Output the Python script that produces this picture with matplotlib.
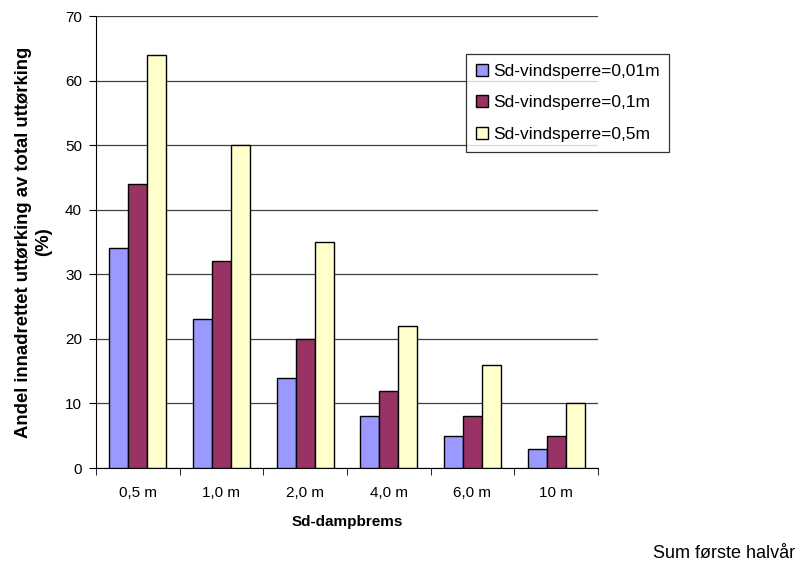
import matplotlib
matplotlib.use("Agg")
import matplotlib.pyplot as plt
import numpy as np

categories = ["0,5 m", "1,0 m", "2,0 m", "4,0 m", "6,0 m", "10 m"]
series_names = ["Sd-vindsperre=0,01m", "Sd-vindsperre=0,1m", "Sd-vindsperre=0,5m"]
vals_001 = [34, 23, 14, 8, 5, 3]
vals_01 = [44, 32, 20, 12, 8, 5]
vals_05 = [64, 50, 35, 22, 16, 10]
colors = ["#9999FF", "#993366", "#FFFFCC"]

plt.rcParams['font.family'] = ['Liberation Sans', 'DejaVu Sans']

fig = plt.figure(figsize=(8.02, 5.67), dpi=100)
ax = fig.add_axes([96/802, 1-468/567, 502/802, 452/567])

x = np.arange(len(categories))
w = 0.227
for i, (vals, c, name) in enumerate(zip([vals_001, vals_01, vals_05], colors, series_names)):
    ax.bar(x + (i-1)*w, vals, width=w, color=c, edgecolor="black", linewidth=1.0,
           label=name, zorder=3)

ax.set_xlim(-0.5, len(categories)-0.5)
ax.set_ylim(0, 70)
ax.set_yticks(range(0, 71, 10))
ax.yaxis.grid(True, color="#404040", linewidth=0.9, zorder=0)
ax.set_axisbelow(True)
for s in ["top", "right"]:
    ax.spines[s].set_visible(False)
ax.spines["left"].set_color("black")
ax.spines["bottom"].set_color("black")

ax.set_xticks(x)
ax.set_xticklabels(categories, fontsize=11)
ax.tick_params(axis="x", length=0, pad=13)
ax.set_xticks(np.arange(-0.5, len(categories), 1), minor=True)
ax.tick_params(axis="x", which="minor", length=5, direction="out", color="black")
ax.tick_params(axis="y", labelsize=11, length=5, direction="out", pad=5)

ax.set_xlabel("Sd-dampbrems", fontsize=11, fontweight="bold", labelpad=11)
ax.set_ylabel("Andel innadrettet uttørking av total uttørking\n(%)", fontsize=13.3,
              fontweight="bold", labelpad=9, linespacing=1.3)

leg = fig.legend(loc="upper left", bbox_to_anchor=(466/802, 1-54/567),
                 fontsize=12.5, frameon=True, fancybox=False, edgecolor="black",
                 handlelength=0.7, handleheight=0.7, handletextpad=0.3,
                 labelspacing=0.95, borderpad=0.55, borderaxespad=0)
leg.get_frame().set_linewidth(0.9)

fig.text(795/802, 1-553/567, "Sum første halvår", fontsize=13, ha="right", va="center")

fig.savefig("out.png", dpi=100)
